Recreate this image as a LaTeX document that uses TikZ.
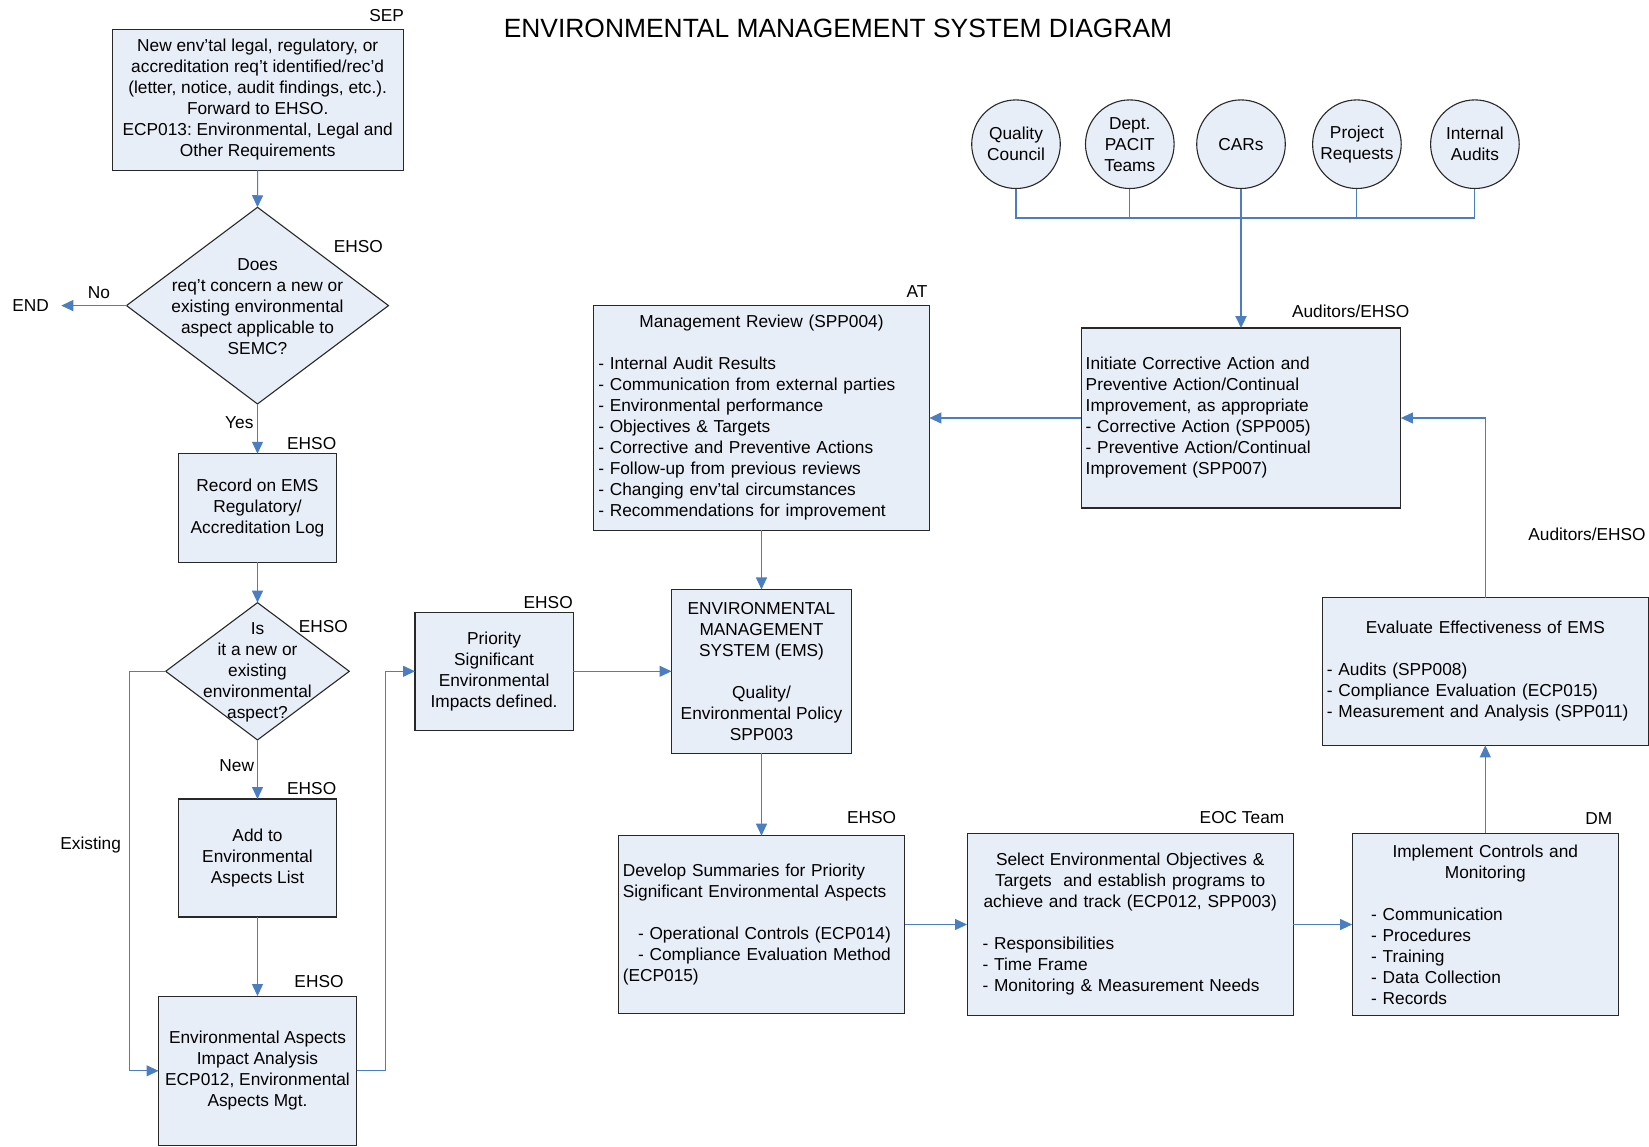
\documentclass[tikz,border=0pt]{standalone}
\usepackage{fontspec}
\setmainfont{Liberation Sans}
\usetikzlibrary{arrows.meta,shapes.geometric}
\setlength{\parindent}{0pt}
\frenchspacing
\definecolor{boxfill}{RGB}{232,238,247}
\definecolor{linkblue}{RGB}{74,126,193}
\definecolor{boxline}{RGB}{40,40,40}
\begin{document}
\begin{tikzpicture}[x=1pt,y=-1pt,
  every node/.style={font=\fontsize{17.3}{21}\selectfont, inner sep=0pt, outer sep=0pt},
  box/.style={draw=boxline, fill=boxfill, line width=1.1pt, align=center},
  lbox/.style={draw=boxline, fill=boxfill, line width=1.1pt, align=left, inner xsep=4.6pt},
  dia/.style={draw=boxline, fill=boxfill, line width=1.1pt, diamond},
  circ/.style={draw=boxline, fill=boxfill, line width=1.1pt, circle, minimum size=88.6pt, align=center},
  tag/.style={anchor=base},
  link/.style={draw=linkblue, line width=1.1pt},
  arr/.style={link, -{Triangle[length=12pt,width=11pt]}},
]
\useasboundingbox (0,0) rectangle (1649,1146);

\node[anchor=base, font=\fontsize{26.4}{30}\selectfont] (title) at (838,37.7) {ENVIRONMENTAL MANAGEMENT SYSTEM DIAGRAM};

% left column
\node[box, minimum width=291.3pt, minimum height=141pt] (sep) at (257.7,99.8)
  {New env'tal legal, regulatory, or\\accreditation req't identified/rec'd\\(letter, notice, audit findings, etc.).\\Forward to EHSO.\\ECP013: Environmental, Legal and\\Other Requirements};
\node[dia, minimum width=262pt, minimum height=196.7pt] (d1) at (257.5,305.6) {};
\node[align=center] (d1t) at (257.5,306.6) {Does\\req't concern a new or\\existing environmental\\aspect applicable to\\SEMC?};
\node[inner xsep=12.3pt] (END) at (30.7,305.6) {END};
\node[box, minimum width=157.6pt, minimum height=108.3pt] (rec) at (257.5,507.9) {Record on EMS\\Regulatory/\\Accreditation Log};
\node[dia, minimum width=183.6pt, minimum height=137.3pt] (d2) at (257.5,671.3) {};
\node[align=center] (d2t) at (257.5,672.3) {Is\\it a new or\\existing\\environmental\\aspect?};
\node[box, minimum width=157.6pt, minimum height=118pt] (add) at (257.5,858) {Add to\\Environmental\\Aspects List};
\node[box, minimum width=198pt, minimum height=149.5pt] (eaia) at (257.5,1070.8) {Environmental Aspects\\Impact Analysis\\ECP012, Environmental\\Aspects Mgt.};
\node[box, minimum width=158.2pt, minimum height=118.4pt] (prio) at (494.1,671.3) {Priority\\Significant\\Environmental\\Impacts defined.};

% middle
\node[lbox, text width=326.5pt, minimum height=224.3pt] (mr) at (761.5,418)
  {\makebox[\hsize]{Management Review (SPP004)}\\[21pt]- Internal Audit Results\\- Communication from external parties\\- Environmental performance\\- Objectives \& Targets\\- Corrective and Preventive Actions\\- Follow-up from previous reviews\\- Changing env'tal circumstances\\- Recommendations for improvement};
\node[box, minimum width=180pt, minimum height=163.7pt] (ems) at (761.5,671.3)
  {ENVIRONMENTAL\\MANAGEMENT\\SYSTEM (EMS)\\[21pt]Quality/\\Environmental Policy\\SPP003};
\node[lbox, text width=277.4pt, minimum height=177.6pt] (dev) at (761.5,924.5)
  {Develop Summaries for Priority\\Significant Environmental Aspects\\[21pt]\hspace*{15.2pt}- Operational Controls (ECP014)\\ \hspace*{15.2pt}- Compliance Evaluation Method\\(ECP015)};
\node[lbox, text width=317.1pt, minimum height=182.4pt] (sel) at (1130.2,924.5)
  {\makebox[\hsize]{Select Environmental Objectives \&}\\ \makebox[\hsize]{Targets~ and establish programs to}\\ \makebox[\hsize]{achieve and track (ECP012, SPP003)}\\[21pt]\hspace*{10.9pt}- Responsibilities\\ \hspace*{10.9pt}- Time Frame\\ \hspace*{10.9pt}- Monitoring \& Measurement Needs};
\node[lbox, text width=257.1pt, minimum height=182.7pt] (imp) at (1485.3,924.5)
  {\makebox[\hsize]{Implement Controls and}\\ \makebox[\hsize]{Monitoring}\\[21pt]\hspace*{14.4pt}- Communication\\ \hspace*{14.4pt}- Procedures\\ \hspace*{14.4pt}- Training\\ \hspace*{14.4pt}- Data Collection\\ \hspace*{14.4pt}- Records};
\node[lbox, text width=316.8pt, minimum height=147.6pt] (eval) at (1485.3,671.5)
  {\makebox[\hsize]{Evaluate Effectiveness of EMS}\\[21pt]- Audits (SPP008)\\- Compliance Evaluation (ECP015)\\- Measurement and Analysis (SPP011)};
\node[lbox, text width=310.6pt, minimum height=180pt] (ca) at (1241,418)
  {Initiate Corrective Action and\\Preventive Action/Continual\\Improvement, as appropriate\\- Corrective Action (SPP005)\\- Preventive Action/Continual\\Improvement (SPP007)};

% circles
\node[circ] (qc) at (1016,144.2) {Quality\\Council};
\node[circ] (dp) at (1129.8,144.2) {Dept.\\PACIT\\Teams};
\node[circ] (cars) at (1241,144.2) {CARs};
\node[circ] (pr) at (1356.9,144.2) {Project\\Requests};
\node[circ] (ia) at (1474.9,144.2) {Internal\\Audits};

% role labels
\node[tag] (lsep) at (386.7,21.7) {SEP};
\node[tag] (ld1) at (358.3,252) {EHSO};
\node[tag] (lrec) at (311.7,449.3) {EHSO};
\node[tag] (ld2) at (323.3,632) {EHSO};
\node[tag] (ladd) at (311.7,794.3) {EHSO};
\node[tag] (leaia) at (319,987.7) {EHSO};
\node[tag] (lprio) at (548.2,608.6) {EHSO};
\node[tag] (lmr) at (917,297.3) {AT};
\node[tag] (ldev) at (871.6,823.5) {EHSO};
\node[tag] (lsel) at (1242,823.2) {EOC Team};
\node[tag] (limp) at (1598.7,824.3) {DM};
\node[tag] (lca) at (1350.7,317.5) {Auditors/EHSO};
\node[tag] (leval) at (1587,540.5) {Auditors/EHSO};

% branch labels
\node[tag] (lno) at (99,298.3) {No};
\node[tag] (lyes) at (239.3,428.5) {Yes};
\node[tag] (lnew) at (236.7,771) {New};
\node[tag] (lex) at (90.7,849.5) {Existing};

% connectors
\draw[arr] (sep.south) -- (d1.north);
\draw[arr] (d1.west) -- (END.east);
\draw[arr] (d1.south) -- (rec.north);
\draw[arr] (rec.south) -- (d2.north);
\draw[arr] (d2.south) -- (add.north);
\draw[arr] (add.south) -- (eaia.north);
\draw[arr] (d2.west) -- ++(-36.4,0) |- (eaia.west);
\draw[arr] (eaia.east) -- ++(29.3,0) |- (prio.west);
\draw[arr] (prio.east) -- (ems.west);
\draw[arr] (mr.south) -- (ems.north);
\draw[arr] (ems.south) -- (dev.north);
\draw[arr] (dev.east) -- (sel.west);
\draw[arr] (sel.east) -- (imp.west);
\draw[arr] (imp.north) -- (eval.south);
\draw[arr] (eval.north) |- (ca.east);
\draw[arr] (ca.west) -- (mr.east);

\coordinate (bus) at (1241,218);
\draw[link] (qc.south) |- (bus) -| (ia.south);
\draw[link] (dp.south) -- (dp.south |- bus);
\draw[link] (pr.south) -- (pr.south |- bus);
\draw[link] (cars.south) -- (bus);
\draw[arr, line width=2.2pt] (bus) -- (ca.north);
\end{tikzpicture}
\end{document}
